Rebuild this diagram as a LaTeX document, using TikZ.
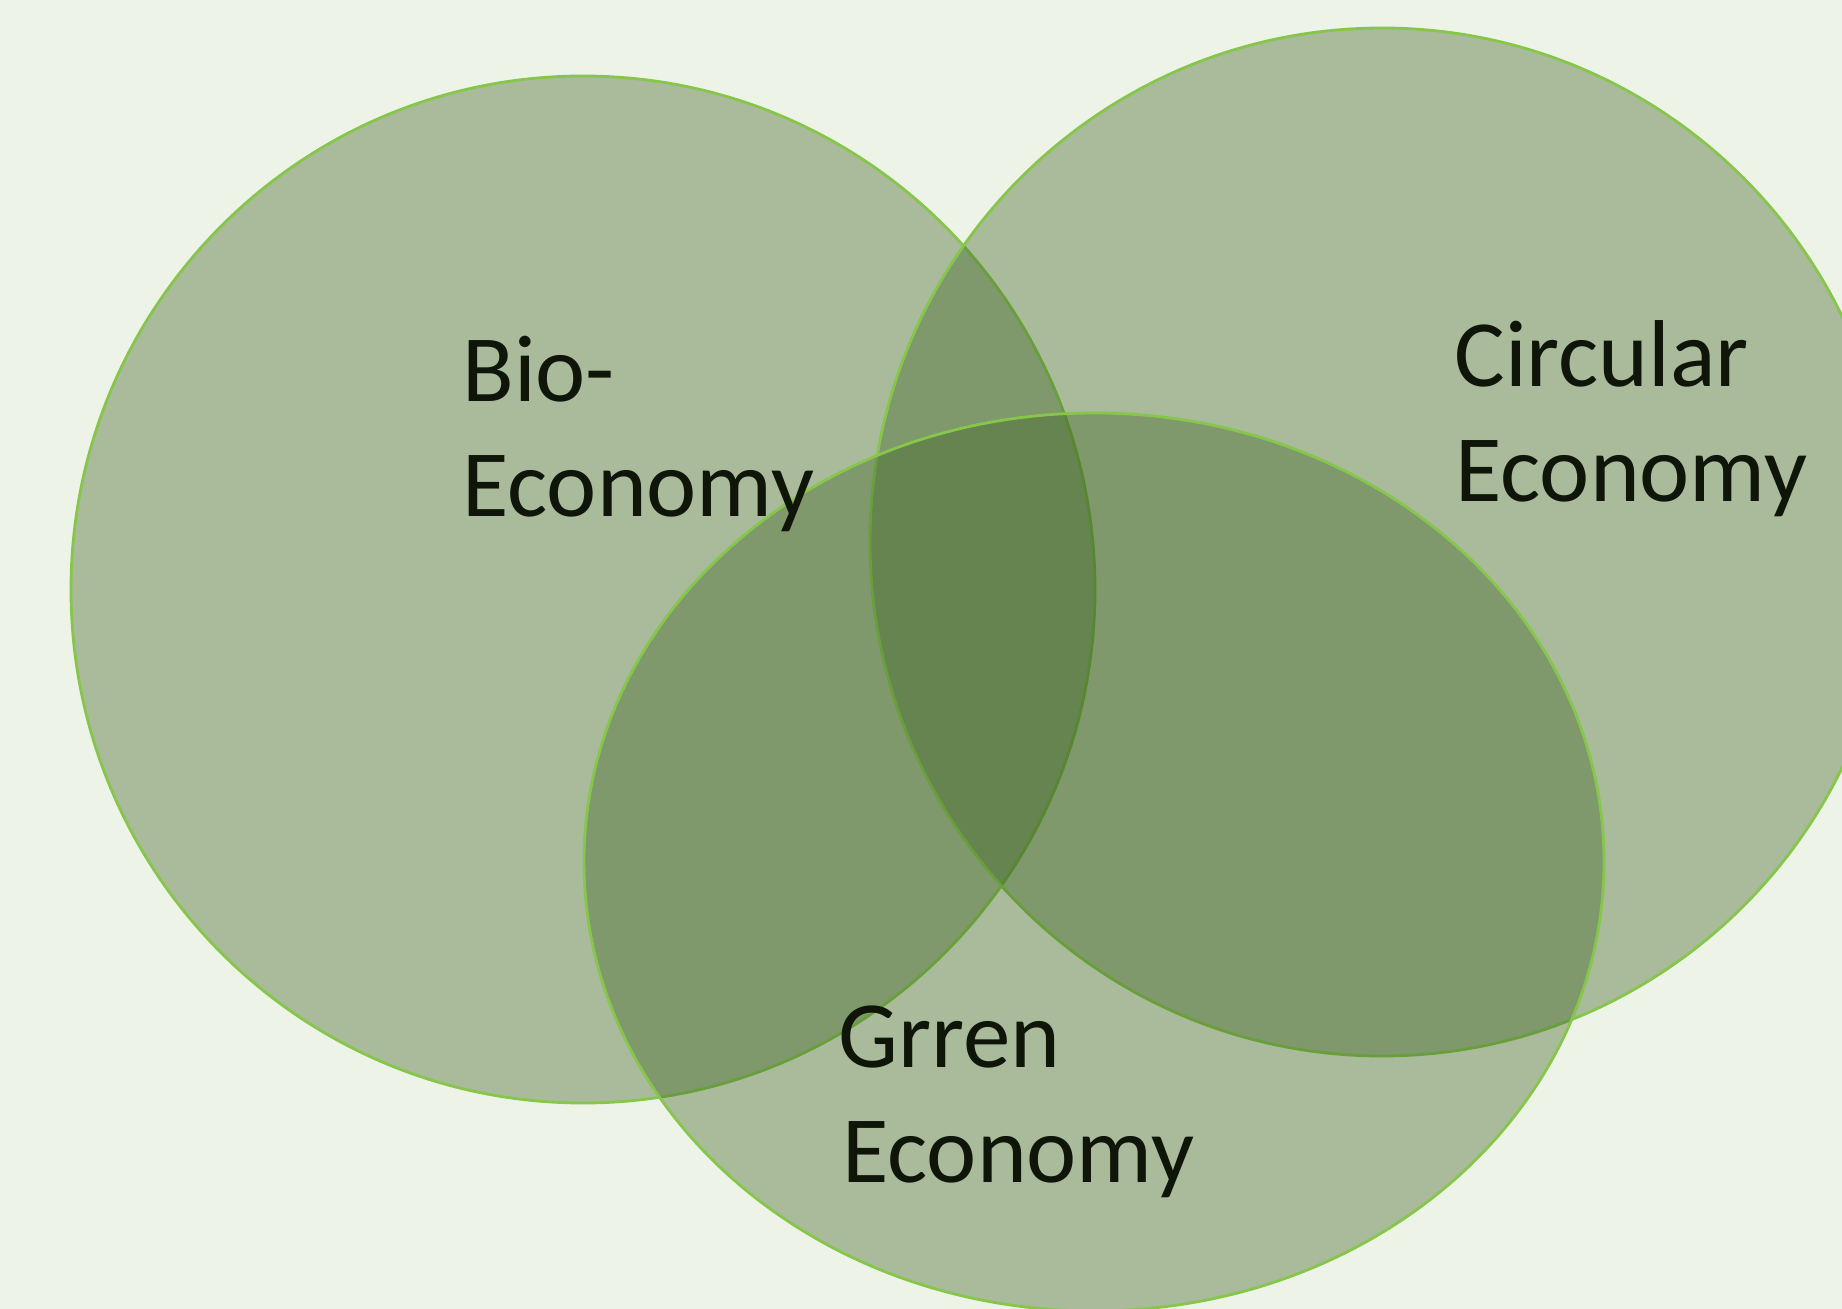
\documentclass[tikz,border=0pt]{standalone}
\usepackage{fontspec}
\setmainfont{Carlito}
\definecolor{bgc}{HTML}{EEF3E8}
\definecolor{setfill}{HTML}{3B6220}
\definecolor{setline}{HTML}{86C64A}
\definecolor{txtc}{HTML}{0F1509}
\tikzset{
  setshape/.style={fill=setfill, fill opacity=0.38, draw=setline, draw opacity=1, line width=1.4pt},
  lbl/.style={anchor=base west, inner sep=0pt, text=txtc, font=\fontsize{47.5}{57.5}\selectfont}
}
\begin{document}
\begin{tikzpicture}[x=0.5pt,y=-0.5pt]
\fill[bgc] (0,0) rectangle (1842,1309);
\useasboundingbox (0,0) rectangle (1842,1309);
\clip (0,0) rectangle (1842,1309);
\path[setshape] (583,589.5) ellipse [x radius=512, y radius=513.5];
\path[setshape] (1382,542) ellipse [x radius=512, y radius=514];
\path[setshape] (1094,862) ellipse [x radius=510, y radius=449];
\node[lbl] (bio1) at (462,401.7) {Bio-};
\node[lbl] (bio2) at (462,516.7) {Economy};
\node[lbl] (circ1) at (1454,387) {Circular};
\node[lbl] (circ2) at (1455,502) {Economy};
\node[lbl] (green1) at (838,1067) {Grren};
\node[lbl] (green2) at (842,1182) {Economy};
\end{tikzpicture}
\end{document}
